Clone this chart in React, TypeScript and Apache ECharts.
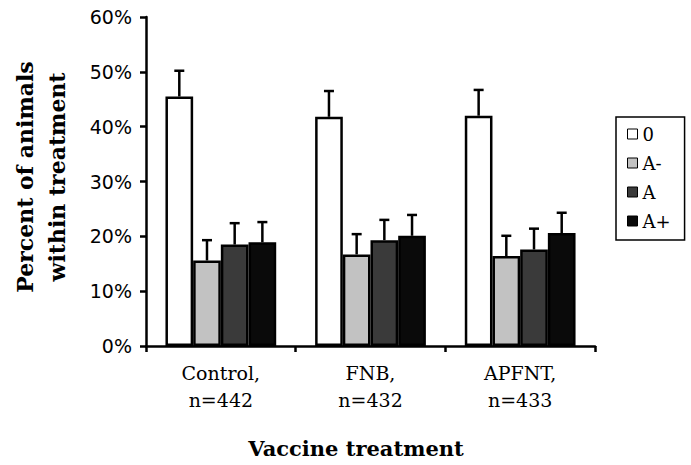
import React, { useEffect, useRef } from "react";
import * as echarts from "echarts";

const categories = ["Control,\nn=442", "FNB,\nn=432", "APFNT,\nn=433"];
const seriesNames = ["0", "A-", "A", "A+"];
const values0 = [45.5, 41.8, 42.0];
const valuesAminus = [15.6, 16.7, 16.4];
const valuesA = [18.5, 19.3, 17.6];
const valuesAplus = [18.9, 20.1, 20.6];
const err0 = [4.7, 4.7, 4.7];
const errAminus = [3.7, 3.7, 3.7];
const errA = [3.9, 3.7, 3.8];
const errAplus = [3.7, 3.8, 3.7];
const yTicks = [0, 10, 20, 30, 40, 50, 60];

const seriesValues = [values0, valuesAminus, valuesA, valuesAplus];
const seriesErrors = [err0, errAminus, errA, errAplus];
const colors = ["#ffffff", "#c2c2c2", "#3a3a3a", "#0a0a0a"];
const CAT_GAP = 0.26;

export default function App() {
  const ref = useRef<HTMLDivElement>(null);
  useEffect(() => {
    if (!ref.current) return;
    const chart = echarts.init(ref.current, null, { renderer: "svg" });
    const errData: number[][] = [];
    seriesValues.forEach((vals, s) => {
      vals.forEach((v, c) => errData.push([c, s, v, seriesErrors[s][c]]));
    });
    const titleFont = {
      fontFamily: "DejaVu Serif",
      fontWeight: "bold",
      fontSize: 22,
      fill: "#000",
      align: "center",
      verticalAlign: "middle",
    };
    const option: any = {
      animation: false,
      backgroundColor: "#ffffff",
      grid: { left: 146, right: 96, top: 17, bottom: 119 },
      legend: {
        orient: "vertical",
        left: 616,
        top: 117,
        padding: [8, 14, 10, 11],
        borderColor: "#000",
        borderWidth: 1.5,
        itemWidth: 10,
        itemHeight: 10,
        itemGap: 11,
        icon: "rect",
        itemStyle: { borderWidth: 1, borderColor: "#000" },
        textStyle: { fontFamily: "DejaVu Serif", fontSize: 18, color: "#000" },
        data: seriesNames,
      },
      xAxis: {
        type: "category",
        data: categories,
        axisLine: { lineStyle: { color: "#000", width: 2.5 } },
        axisTick: { show: true, length: 6, lineStyle: { color: "#000", width: 2.5 } },
        axisLabel: {
          color: "#000",
          fontFamily: "DejaVu Serif",
          fontSize: 19,
          lineHeight: 27,
          margin: 13,
        },
      },
      yAxis: {
        type: "value",
        min: yTicks[0],
        max: yTicks[yTicks.length - 1],
        interval: 10,
        axisLine: { show: true, lineStyle: { color: "#000", width: 2.5 } },
        axisTick: { show: true, length: 6, lineStyle: { color: "#000", width: 2.5 } },
        splitLine: { show: false },
        axisLabel: {
          color: "#000",
          fontFamily: "DejaVu Sans",
          fontSize: 19,
          margin: 14,
          formatter: "{value}%",
        },
      },
      series: [
        ...seriesNames.map((name, s) => ({
          name,
          type: "bar",
          data: seriesValues[s],
          barGap: "0%",
          barCategoryGap: CAT_GAP * 100 + "%",
          itemStyle: { color: colors[s], borderColor: "#000", borderWidth: 2.5 },
        })),
        {
          type: "custom",
          z: 5,
          data: errData,
          renderItem: (params: any, api: any) => {
            const c = api.value(0);
            const s = api.value(1);
            const v = api.value(2);
            const e = api.value(3);
            const band = api.size([1, 0])[0];
            const bw = (band * (1 - CAT_GAP)) / 4;
            const cx = api.coord([c, 0])[0] + (s - 1.5) * bw;
            const yb = api.coord([c, v])[1];
            const yt = api.coord([c, v + e])[1];
            const st = { stroke: "#000", lineWidth: 2.5 };
            return {
              type: "group",
              children: [
                { type: "line", shape: { x1: cx, y1: yb, x2: cx, y2: yt }, style: st },
                { type: "line", shape: { x1: cx - 5, y1: yt, x2: cx + 5, y2: yt }, style: st },
              ],
            };
          },
        },
      ],
      graphic: [
        {
          type: "text",
          x: 25,
          y: 177,
          rotation: Math.PI / 2,
          style: { ...titleFont, text: "Percent of animals" },
        },
        {
          type: "text",
          x: 57,
          y: 177,
          rotation: Math.PI / 2,
          style: { ...titleFont, text: "within treatment" },
        },
        {
          type: "text",
          x: 356,
          y: 448,
          style: { ...titleFont, fontSize: 21, text: "Vaccine treatment" },
        },
      ],
    };
    chart.setOption(option);
    return () => chart.dispose();
  }, []);
  return (
    <div
      ref={ref}
      style={{ position: "absolute", left: 0, top: 0, width: 691, height: 465 }}
    />
  );
}
